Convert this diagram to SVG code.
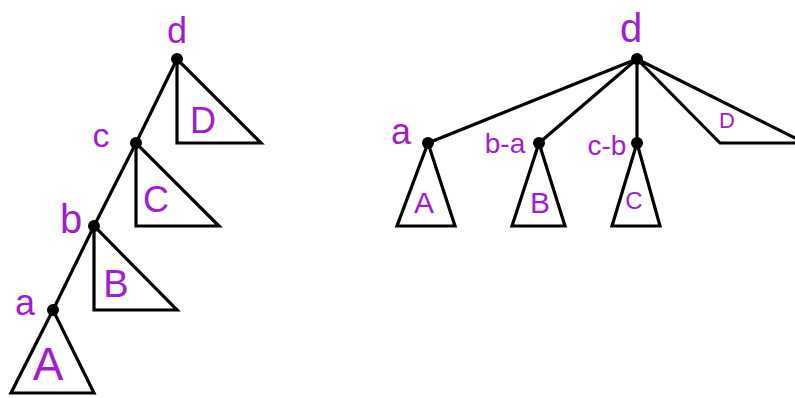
<svg xmlns="http://www.w3.org/2000/svg" width="795" height="398" viewBox="0 0 795 398">
<style>
.sub{fill:none;stroke:#000;stroke-width:3.2;stroke-linejoin:miter}
.edge{fill:none;stroke:#000;stroke-width:3.2}
.dot{fill:#000}
.lbl{fill:#a21cd0;font-family:"Liberation Sans",Arial,sans-serif;text-anchor:middle}
</style>
<rect width="795" height="398" fill="#fff"/>
<g id="connectors">
<line class="edge" x1="177" y1="59" x2="136" y2="143"/>
<line class="edge" x1="136" y1="143" x2="94" y2="226"/>
<line class="edge" x1="94" y1="226" x2="53" y2="310"/>
<line class="edge" x1="637" y1="59" x2="428" y2="143"/>
<line class="edge" x1="637" y1="59" x2="539" y2="143"/>
<line class="edge" x1="637" y1="59" x2="637" y2="143"/>
</g>
<g id="left-d">
<path class="sub" d="M177,59 L177,143 L261,143 Z"/>
<circle class="dot" cx="177" cy="59" r="6"/>
<text class="lbl" x="177" y="43" font-size="36">d</text>
<text class="lbl" x="203" y="133" font-size="36">D</text>
</g>
<g id="left-c">
<path class="sub" d="M136,143 L136,226 L219,226 Z"/>
<circle class="dot" cx="136" cy="143" r="6"/>
<text class="lbl" x="101" y="147" font-size="34">c</text>
<text class="lbl" x="156" y="212" font-size="36">C</text>
</g>
<g id="left-b">
<path class="sub" d="M94,226 L94,310 L177,310 Z"/>
<circle class="dot" cx="94" cy="226" r="6"/>
<text class="lbl" x="71" y="233" font-size="40">b</text>
<text class="lbl" x="116" y="297" font-size="38">B</text>
</g>
<g id="left-a">
<path class="sub" d="M53,310 L11,393 L94,393 Z"/>
<circle class="dot" cx="53" cy="310" r="6"/>
<text class="lbl" x="25" y="315" font-size="36">a</text>
<text class="lbl" x="48" y="380" font-size="46">A</text>
</g>
<g id="right-d">
<path class="sub" d="M720,143 L637,59 L805,143 Z"/>
<circle class="dot" cx="637" cy="59" r="6"/>
<text class="lbl" x="631" y="42" font-size="40">d</text>
<text class="lbl" x="727" y="128" font-size="22">D</text>
</g>
<g id="right-a">
<path class="sub" d="M428,143 L397,226 L455,226 Z"/>
<circle class="dot" cx="428" cy="143" r="6"/>
<text class="lbl" x="401" y="144" font-size="36">a</text>
<text class="lbl" x="424" y="213" font-size="30">A</text>
</g>
<g id="right-ba">
<path class="sub" d="M539,143 L512,226 L565,226 Z"/>
<circle class="dot" cx="539" cy="143" r="6"/>
<text class="lbl" x="505" y="153" font-size="28">b-a</text>
<text class="lbl" x="540" y="213" font-size="30">B</text>
</g>
<g id="right-cb">
<path class="sub" d="M637,143 L612,226 L660,226 Z"/>
<circle class="dot" cx="637" cy="143" r="6"/>
<text class="lbl" x="607" y="155" font-size="28">c-b</text>
<text class="lbl" x="634" y="209" font-size="24">C</text>
</g>
</svg>
